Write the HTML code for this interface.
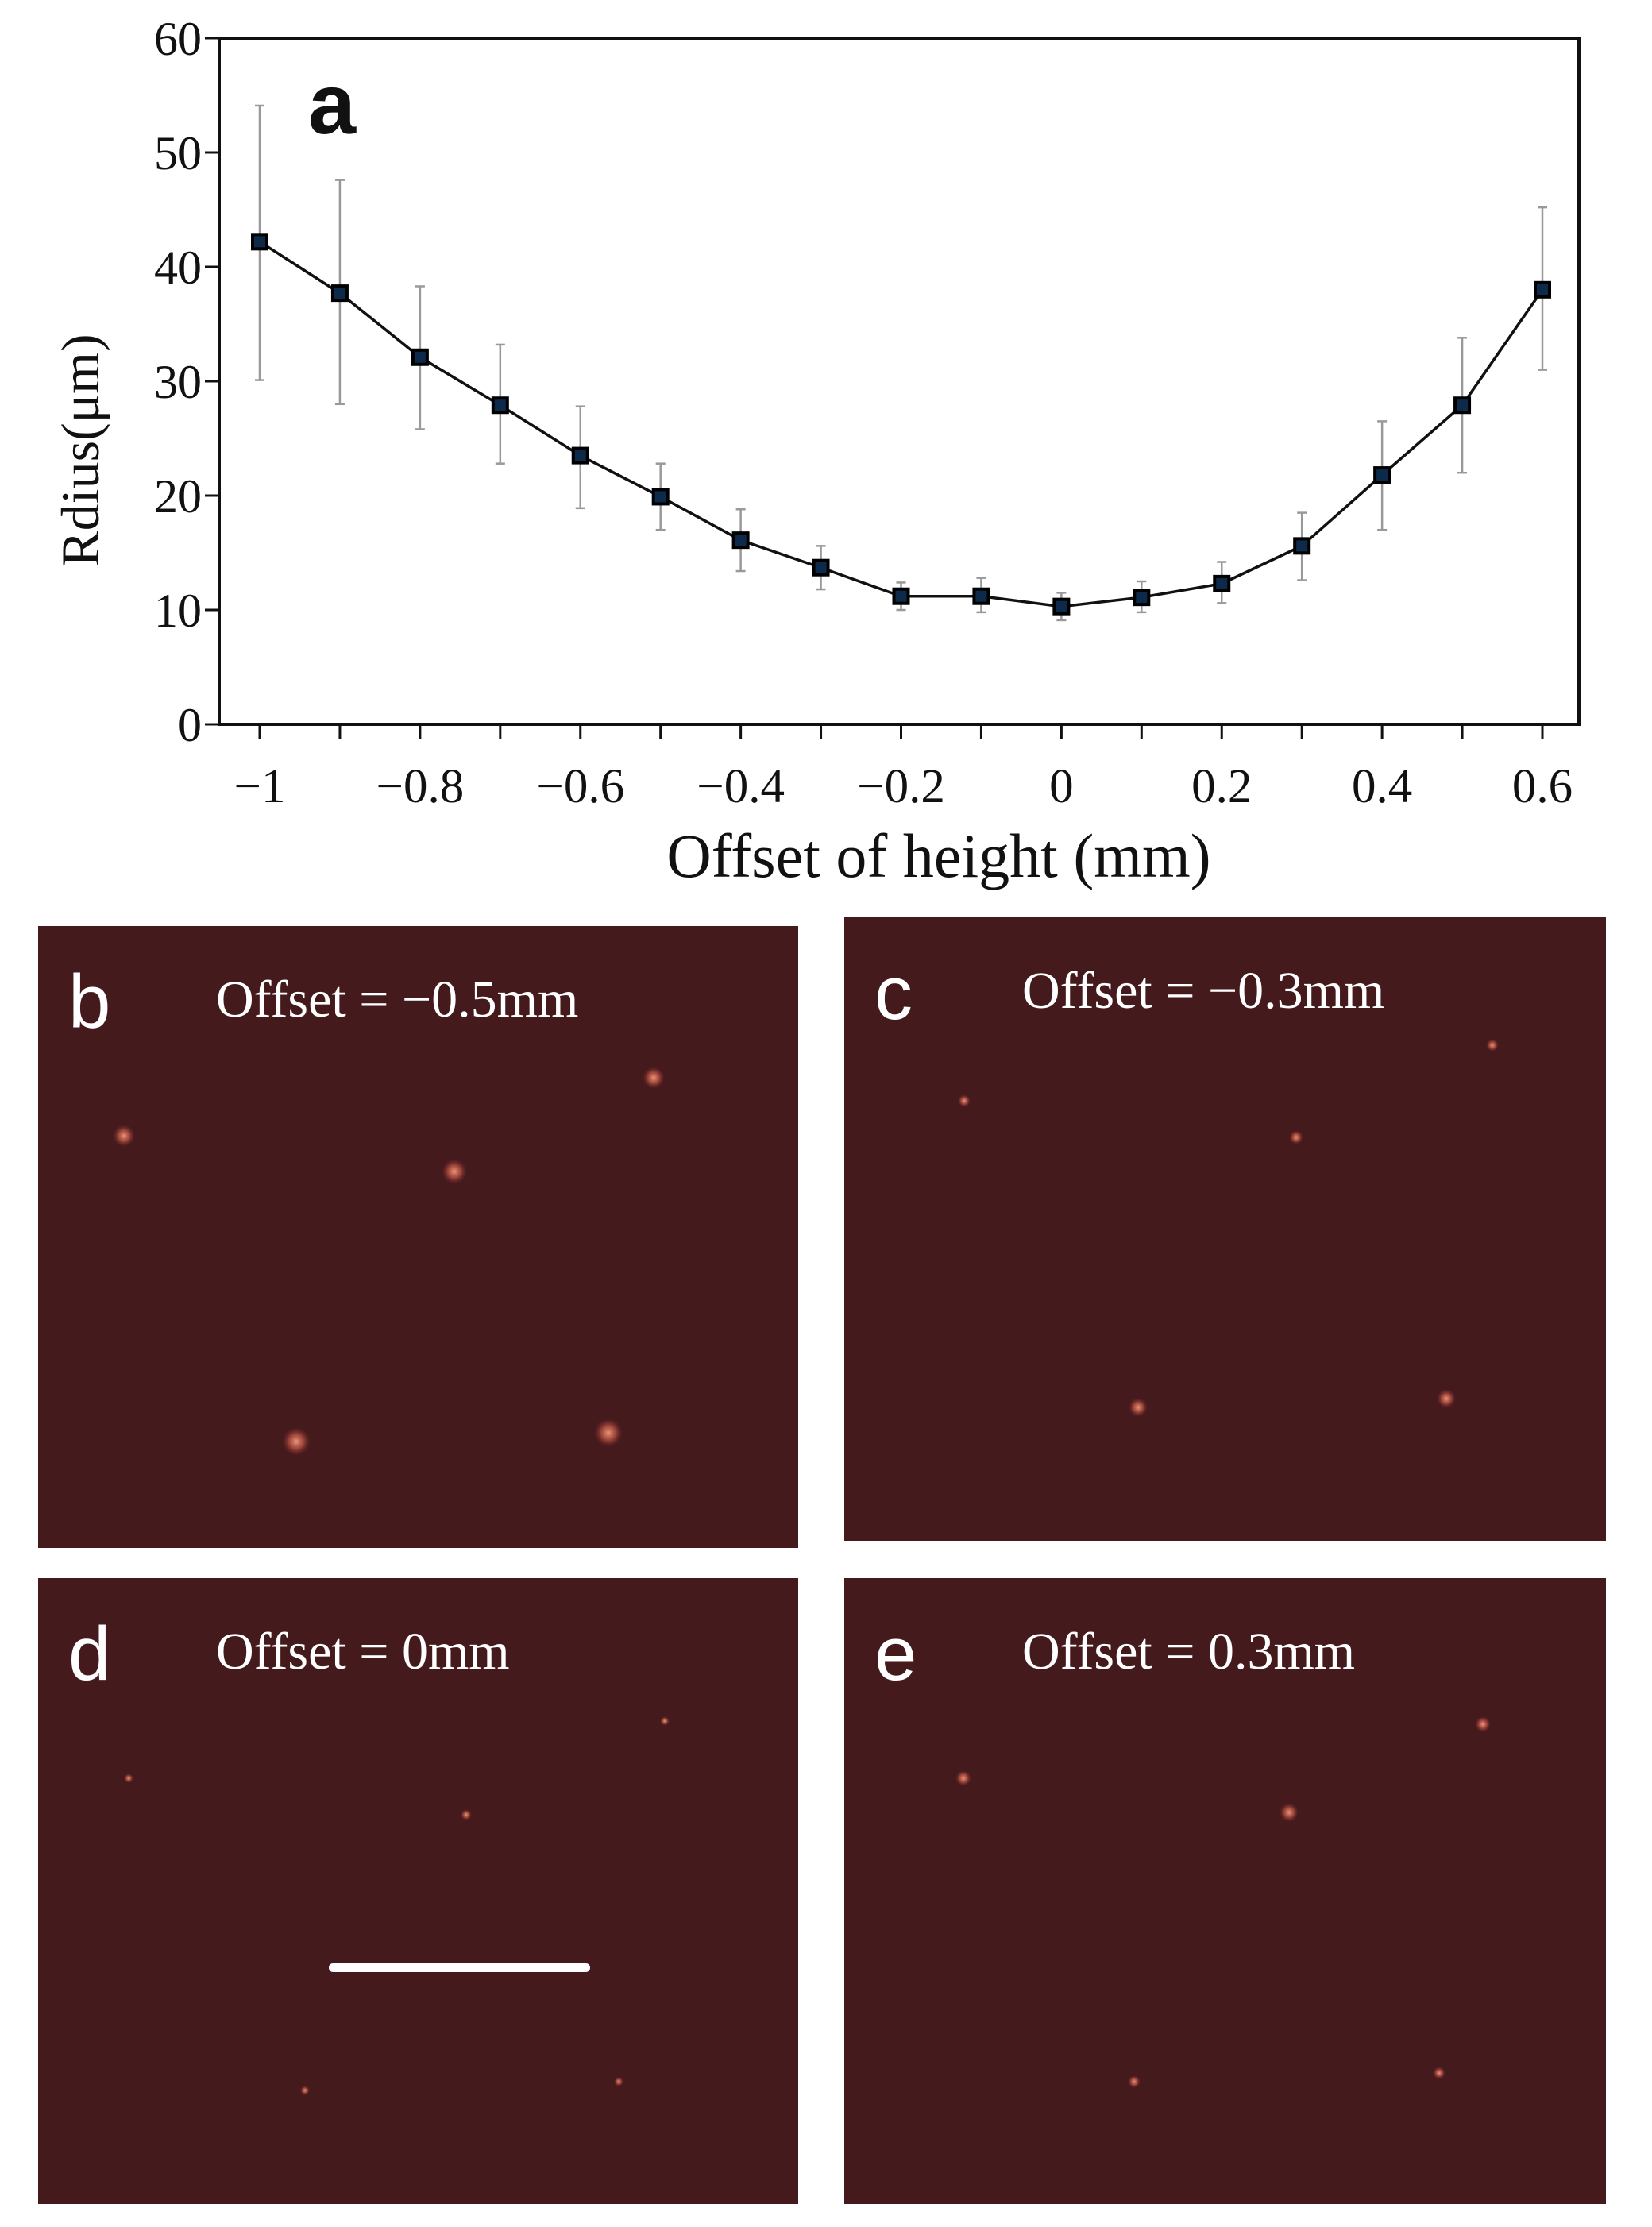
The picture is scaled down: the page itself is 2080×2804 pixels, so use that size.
<!DOCTYPE html>
<html><head><meta charset="utf-8"><style>
html,body{margin:0;padding:0;background:#fff;}
svg{display:block;}
</style></head><body>
<svg id="fig" width="2080" height="2804" viewBox="0 0 2080 2804" xmlns="http://www.w3.org/2000/svg">
<g id="chart"></g>
<g id="panels"></g>
</svg>
<script>
const xValues=[-1,-0.9,-0.8,-0.7,-0.6,-0.5,-0.4,-0.3,-0.2,-0.1,0,0.1,0.2,0.3,0.4,0.5,0.6];
const radius=[42.2,37.7,32.1,27.9,23.5,19.9,16.1,13.7,11.2,11.2,10.3,11.1,12.3,15.6,21.8,27.9,38.0];
const errUpper=[54.1,47.6,38.3,33.2,27.8,22.8,18.8,15.6,12.4,12.8,11.5,12.5,14.2,18.5,26.5,33.8,45.2];
const errLower=[30.1,28.0,25.8,22.8,18.9,17.0,13.4,11.8,10.0,9.8,9.1,9.8,10.6,12.6,17.0,22.0,31.0];
const yTicks=[0,10,20,30,40,50,60];
const xTicks=[-1,-0.8,-0.6,-0.4,-0.2,0,0.2,0.4,0.6];
const xTickLabels=["\u22121","\u22120.8","\u22120.6","\u22120.4","\u22120.2","0","0.2","0.4","0.6"];

const NS="http://www.w3.org/2000/svg";
const L=276,R=1988,T=48,B=912;
const X0=327,X1=1942;
const sx=v=>X0+(v-(-1))/(0.6-(-1))*(X1-X0);
const sy=v=>B-(v/60)*(B-T);
function mk(tag,attrs,parent,text){const e=document.createElementNS(NS,tag);for(const k in attrs)e.setAttribute(k,attrs[k]);if(text!==undefined)e.textContent=text;parent.appendChild(e);return e;}
const chart=document.getElementById('chart');
const serif='"Liberation Serif", serif', sans='"Liberation Sans", sans-serif';

let frame=mk('rect',{x:L,y:T,width:R-L,height:B-T,fill:'none',stroke:'#111','stroke-width':4},chart);



yTicks.forEach(v=>{
  let t=mk('line',{x1:L-18,x2:L,y1:sy(v),y2:sy(v),stroke:'#111','stroke-width':3},chart);
  
  
  let lb=mk('text',{x:L-22,y:sy(v)+21,'text-anchor':'end','font-family':serif,'font-size':60,fill:'#111'},chart,String(v));
  
  
});
xValues.forEach(v=>{
  let t=mk('line',{x1:sx(v),x2:sx(v),y1:B,y2:B+18,stroke:'#111','stroke-width':3},chart);
  
  
});
xTicks.forEach((v,i)=>{
  let lb=mk('text',{x:sx(v),y:1010,'text-anchor':'middle','font-family':serif,'font-size':61,fill:'#111'},chart,xTickLabels[i]);
  
  
});
let xt=mk('text',{x:1182,y:1104,'text-anchor':'middle','font-family':serif,'font-size':78,fill:'#111'},chart,'Offset of height (mm)');


let yt=mk('text',{x:0,y:0,'text-anchor':'middle','font-family':serif,'font-size':68,fill:'#111',transform:'translate(124,567) rotate(-90)'},chart,'Rdius(\u03bcm)');


let pa=mk('text',{x:388,y:168,'font-family':sans,'font-size':108,'font-weight':'bold',fill:'#111'},chart,'a');



xValues.forEach((v,i)=>{
  const x=sx(v);
  let g=mk('g',{stroke:'#999','stroke-width':2.5},chart);
  
  
  mk('line',{x1:x,x2:x,y1:sy(errUpper[i]),y2:sy(errLower[i])},g);
  mk('line',{x1:x-6,x2:x+6,y1:sy(errUpper[i]),y2:sy(errUpper[i])},g);
  mk('line',{x1:x-6,x2:x+6,y1:sy(errLower[i]),y2:sy(errLower[i])},g);
});
let line=mk('polyline',{points:xValues.map((v,i)=>sx(v)+','+sy(radius[i])).join(' '),fill:'none',stroke:'#111','stroke-width':3.5},chart);


xValues.forEach((v,i)=>{
  let m=mk('rect',{x:sx(v)-9,y:sy(radius[i])-9,width:18,height:18,fill:'#0d2a4a',stroke:'#000','stroke-width':4},chart);
  
  
});

const panels=document.getElementById('panels');
const defs=mk('defs',{},panels);
const gr=mk('radialGradient',{id:'dot'},defs);
mk('stop',{offset:'0%','stop-color':'#f0a080','stop-opacity':0.95},gr);
mk('stop',{offset:'50%','stop-color':'#c85848','stop-opacity':0.7},gr);
mk('stop',{offset:'100%','stop-color':'#7a2a28','stop-opacity':0},gr);
const P=[
 {id:'b',x:48,y:1166,w:957,h:783,label:'b',text:'Offset = \u22120.5mm',dots:[[156,1430,14],[823,1357,14],[572,1475,16],[373,1815,18],[766,1804,18]]},
 {id:'c',x:1063,y:1155,w:959,h:785,label:'c',text:'Offset = \u22120.3mm',dots:[[1214,1386,8],[1879,1316,8],[1632,1432,9],[1433,1772,12],[1821,1761,12]]},
 {id:'d',x:48,y:1987,w:957,h:788,label:'d',text:'Offset = 0mm',dots:[[162,2239,6],[837,2167,6],[587,2285,7],[384,2632,6],[779,2621,6]]},
 {id:'e',x:1063,y:1987,w:959,h:788,label:'e',text:'Offset = 0.3mm',dots:[[1213,2239,10],[1867,2171,10],[1623,2282,12],[1428,2621,8],[1812,2610,8]]}
];
P.forEach(p=>{
  let g=mk('g',{},panels);
  
  
  mk('rect',{x:p.x,y:p.y,width:p.w,height:p.h,fill:'#441a1d'},g);
  p.dots.forEach(d=>{
    let c=mk('circle',{cx:d[0],cy:d[1],r:d[2],fill:'url(#dot)'},g);
    
    
  });
  let l=mk('text',{x:p.x+38,y:p.y+128,'font-family':sans,'font-size':96,fill:'#fff'},g,p.label);
  
  
  let t=mk('text',{x:p.x+224,y:p.y+114,'font-family':serif,'font-size':66,fill:'#fff'},g,p.text);
  
  
});
let sb=mk('rect',{x:414,y:2472,width:329,height:11,rx:5,fill:'#fff'},panels);


</script>
</body></html>
